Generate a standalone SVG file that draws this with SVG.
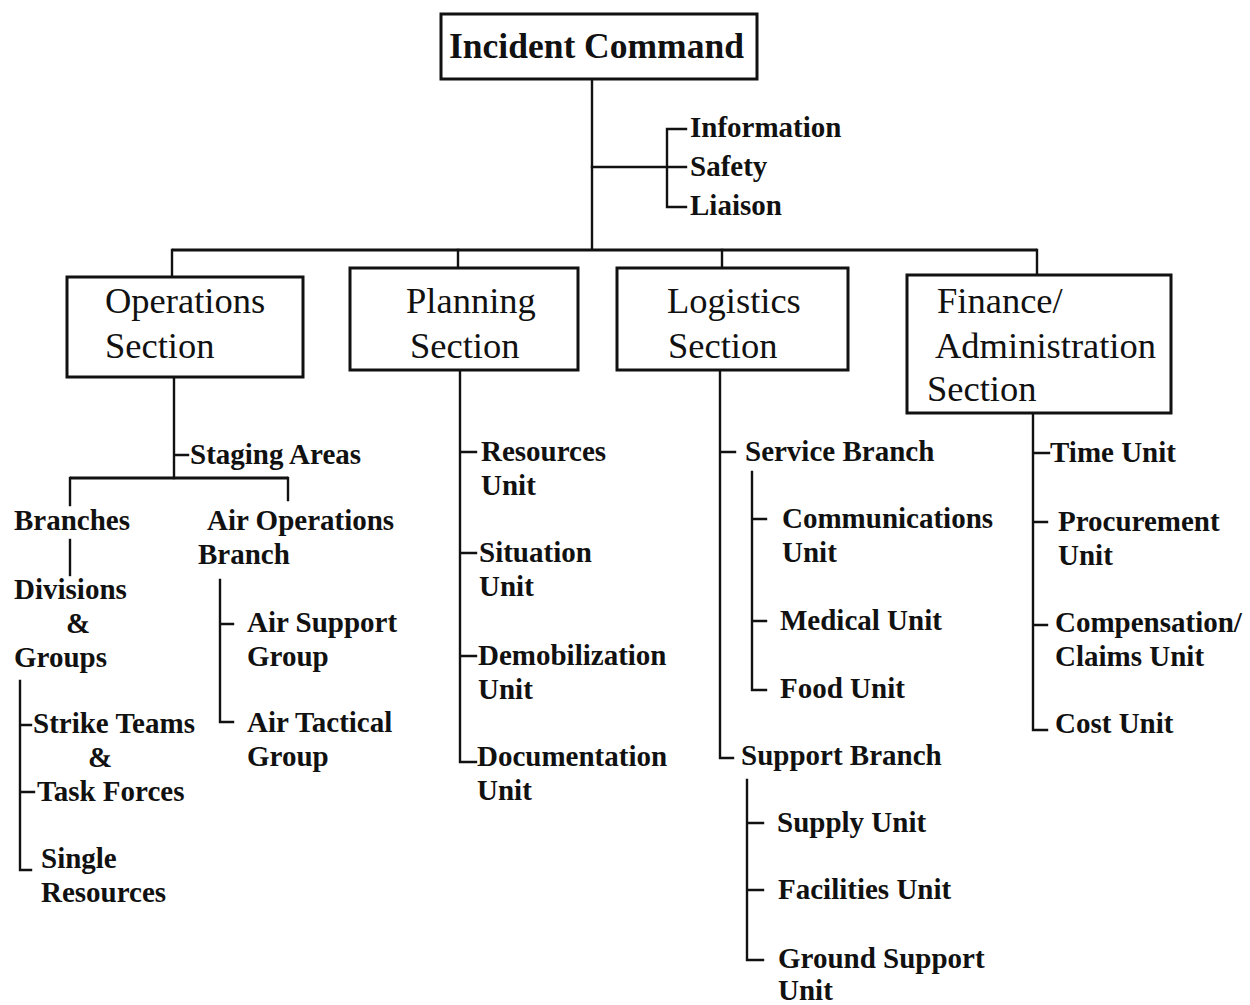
<svg xmlns="http://www.w3.org/2000/svg" width="1250" height="1005" viewBox="0 0 1250 1005">
  <style>
    .box { fill: #fff; stroke: #111; stroke-width: 3; }
    .ln { fill: none; stroke: #111; stroke-width: 2.4; stroke-linecap: square; }
    .bar { fill: none; stroke: #111; stroke-width: 3; }
    .t { font-family: "Liberation Serif", "Times New Roman", serif; fill: #111; }
    .b { font-weight: bold; font-size: 29px; }
    .sec { font-size: 36.5px; }
    .top { font-weight: bold; font-size: 35.5px; }
  </style>
  <rect width="1250" height="1005" fill="#fff"/>

  <!-- connectors -->
  <g id="connectors">
    <!-- command to staff and sections -->
    <path class="ln" d="M592 79 V249"/>
    <path class="ln" d="M592 167 H667 M667 129 V207 M667 129 H686 M667 167 H686 M667 207 H686"/>
    <path class="bar" d="M172 250 H1037"/>
    <path class="ln" d="M172 250 V277 M458 250 V268 M722 250 V268 M1037 250 V275"/>
    <!-- operations -->
    <path class="ln" d="M174 377 V478 M174 455 H188"/>
    <path class="bar" d="M70 478 H288"/>
    <path class="ln" d="M70 478 V505 M288 478 V500"/>
    <path class="ln" d="M70 540 V575"/>
    <path class="ln" d="M20 681 V870 H31 M20 725 H31 M20 792 H34"/>
    <path class="ln" d="M220 580 V722 H233 M220 624 H233"/>
    <!-- planning -->
    <path class="ln" d="M460 370 V762 H476 M460 452 H476 M460 553 H476 M460 656 H476"/>
    <!-- logistics -->
    <path class="ln" d="M720 370 V758 H733 M720 452 H735"/>
    <path class="ln" d="M752 472 V690 H766 M752 519 H766 M752 621 H766"/>
    <path class="ln" d="M747 780 V960 H763 M747 823 H763 M747 890 H763"/>
    <!-- finance -->
    <path class="ln" d="M1033 413 V730 H1047 M1033 453 H1049 M1033 522 H1047 M1033 625 H1047"/>
  </g>

  <g id="incident-command">
    <rect class="box" x="441" y="14" width="316" height="65"/>
    <text class="t top" x="449" y="58">Incident Command</text>
  </g>
  <g id="command-staff">
    <text class="t b" x="690" y="137">Information</text>
    <text class="t b" x="690" y="176">Safety</text>
    <text class="t b" x="690" y="215">Liaison</text>
  </g>

  <g id="operations-section">
    <rect class="box" x="67" y="277" width="236" height="100"/>
    <text class="t sec" x="105" y="313">Operations</text>
    <text class="t sec" x="105" y="358">Section</text>
  </g>
  <g id="planning-section">
    <rect class="box" x="350" y="268" width="228" height="102"/>
    <text class="t sec" x="406" y="313">Planning</text>
    <text class="t sec" x="410" y="358">Section</text>
  </g>
  <g id="logistics-section">
    <rect class="box" x="617" y="268" width="231" height="102"/>
    <text class="t sec" x="667" y="313">Logistics</text>
    <text class="t sec" x="668" y="358">Section</text>
  </g>
  <g id="finance-section">
    <rect class="box" x="907" y="275" width="264" height="138"/>
    <text class="t sec" x="937" y="313">Finance/</text>
    <text class="t sec" x="935" y="358">Administration</text>
    <text class="t sec" x="927" y="401">Section</text>
  </g>

  <!-- operations units -->
  <g id="staging-areas"><text class="t b" x="190" y="464">Staging Areas</text></g>
  <g id="branches"><text class="t b" x="14" y="530">Branches</text></g>
  <g id="divisions-groups">
    <text class="t b" x="14" y="599">Divisions</text>
    <text class="t b" x="66" y="633">&amp;</text>
    <text class="t b" x="14" y="667">Groups</text>
  </g>
  <g id="strike-teams">
    <text class="t b" x="33" y="733">Strike Teams</text>
    <text class="t b" x="88" y="767">&amp;</text>
    <text class="t b" x="37" y="801">Task Forces</text>
  </g>
  <g id="single-resources">
    <text class="t b" x="41" y="868">Single</text>
    <text class="t b" x="41" y="902">Resources</text>
  </g>
  <g id="air-operations">
    <text class="t b" x="207" y="530">Air Operations</text>
    <text class="t b" x="198" y="564">Branch</text>
  </g>
  <g id="air-support">
    <text class="t b" x="247" y="632">Air Support</text>
    <text class="t b" x="247" y="666">Group</text>
  </g>
  <g id="air-tactical">
    <text class="t b" x="247" y="732">Air Tactical</text>
    <text class="t b" x="247" y="766">Group</text>
  </g>

  <!-- planning units -->
  <g id="resources-unit">
    <text class="t b" x="481" y="461">Resources</text>
    <text class="t b" x="481" y="495">Unit</text>
  </g>
  <g id="situation-unit">
    <text class="t b" x="479" y="562">Situation</text>
    <text class="t b" x="479" y="596">Unit</text>
  </g>
  <g id="demobilization-unit">
    <text class="t b" x="478" y="665">Demobilization</text>
    <text class="t b" x="478" y="699">Unit</text>
  </g>
  <g id="documentation-unit">
    <text class="t b" x="477" y="766">Documentation</text>
    <text class="t b" x="477" y="800">Unit</text>
  </g>

  <!-- logistics units -->
  <g id="service-branch"><text class="t b" x="745" y="461">Service Branch</text></g>
  <g id="communications-unit">
    <text class="t b" x="782" y="528">Communications</text>
    <text class="t b" x="782" y="562">Unit</text>
  </g>
  <g id="medical-unit"><text class="t b" x="780" y="630">Medical Unit</text></g>
  <g id="food-unit"><text class="t b" x="780" y="698">Food Unit</text></g>
  <g id="support-branch"><text class="t b" x="741" y="765">Support Branch</text></g>
  <g id="supply-unit"><text class="t b" x="777" y="832">Supply Unit</text></g>
  <g id="facilities-unit"><text class="t b" x="778" y="899">Facilities Unit</text></g>
  <g id="ground-support-unit">
    <text class="t b" x="778" y="968">Ground Support</text>
    <text class="t b" x="778" y="1000">Unit</text>
  </g>

  <!-- finance units -->
  <g id="time-unit"><text class="t b" x="1050" y="462">Time Unit</text></g>
  <g id="procurement-unit">
    <text class="t b" x="1058" y="531">Procurement</text>
    <text class="t b" x="1058" y="565">Unit</text>
  </g>
  <g id="compensation-unit">
    <text class="t b" x="1055" y="632">Compensation/</text>
    <text class="t b" x="1055" y="666">Claims Unit</text>
  </g>
  <g id="cost-unit"><text class="t b" x="1055" y="733">Cost Unit</text></g>
</svg>
